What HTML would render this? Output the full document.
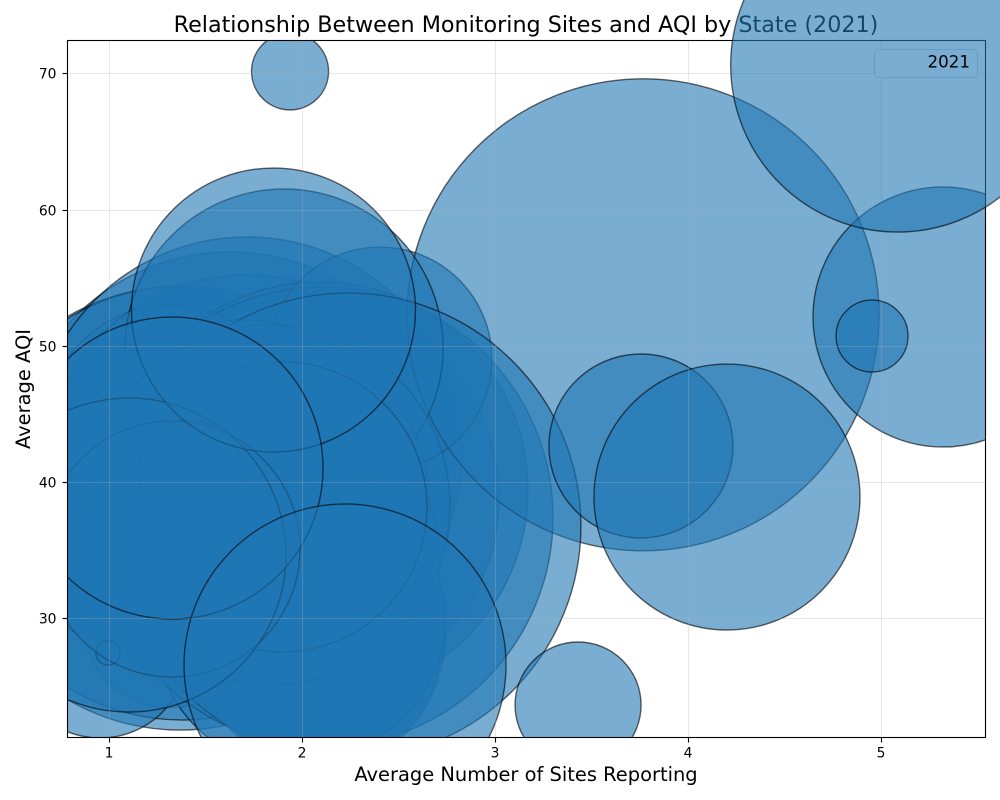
<!DOCTYPE html>
<html>
<head>
<meta charset="utf-8">
<title>Relationship Between Monitoring Sites and AQI by State (2021)</title>
<style>
html,body{margin:0;padding:0;background:#fff;}
svg{display:block;font-family:"DejaVu Sans","Liberation Sans",sans-serif;}
</style>
</head>
<body>
<svg id="chart" xmlns="http://www.w3.org/2000/svg" width="1000" height="800" viewBox="0 0 1000 800">
  <defs>
    <clipPath id="plot-clip"><rect x="67.5" y="40" width="918" height="697.5"/></clipPath>
  </defs>
  <rect x="0" y="0" width="1000" height="800" fill="#fff"/>
  <g id="bubbles" clip-path="url(#plot-clip)"></g>
  <g id="grid"></g>
  <g id="axes"></g>
  <rect x="67.5" y="40.5" width="918" height="697" fill="none" stroke="#000" stroke-width="1.1"/>
  <text x="526" y="32" font-size="22.25" text-anchor="middle" fill="#000">Relationship Between Monitoring Sites and AQI by State (2021)</text>
  <text x="526" y="781" font-size="19.45" text-anchor="middle" fill="#000">Average Number of Sites Reporting</text>
  <text x="30" y="389" font-size="19.45" text-anchor="middle" fill="#000" transform="rotate(-90 30 389)">Average AQI</text>
  <rect x="874.5" y="49.5" width="103" height="28" rx="4" ry="4" fill="#fff" fill-opacity="0.8" stroke="#ccc" stroke-opacity="0.8" stroke-width="1.1"/>
  <g id="top-bubble"></g>
  <text x="970" y="67.5" font-size="16.7" text-anchor="end" fill="#000">2021</text>
</svg>
<script>
// Values, ordered back to front.
const sites = [1.625,1.365,1.376,1.713,1.713,0.992,0.951,1.988,1.988,2.091,2.107,2.402,3.766,1.905,2.236,3.429,1.936,3.755,4.201,5.321,4.953,1.728,1.677,1.755,1.625,1.780,1.677,1.469,1.988,1.728,1.262,1.314,2.091,2.091,2.039,1.314,1.894,1.832,1.417,0.992,1.324,1.101,1.850,1.324,2.221,5.086];
const aqi = [40.90,38.10,38.47,39.94,42.22,35.39,27.67,29.65,38.84,39.43,37.44,49.05,52.30,49.86,36.78,23.63,70.18,42.66,38.91,52.14,50.74,40.90,39.06,40.16,39.43,38.69,37.96,38.69,34.28,32.08,38.69,43.84,28.41,27.67,29.88,29.88,38.18,38.32,40.75,27.45,35.09,34.65,52.65,41.04,26.57,70.65];
const markerSizes = [98546,102195,97644,89712,95852,17934,16058,44810,82118,89712,109693,26011,115490,52423,112574,8230,3074,17551,36681,35044,2687,16796,29364,18715,35044,53084,74858,59927,40643,25091,46656,32400,32400,29860,37791,16058,43597,67185,5607,299,33974,51112,41812,47280,53749,57831];
const xTickLabels = [1,2,3,4,5];
const yTickLabels = [30,40,50,60,70];

const SVG_NS = 'http://www.w3.org/2000/svg';
function xScale(v){ return 109.5 + (v - 1) * 192.9; }
function yScale(v){ return 482.2 - (v - 40) * 13.61; }
function radius(s){ return Math.sqrt(s) / 2 * 100 / 72; }
// Bubbles buried deep in the overlapping cluster show only a faint edge.
function isBuried(i){ return (i >= 21 && i <= 35) || i === 37; }

const bubbleLayer = document.getElementById('bubbles');
const topLayer = document.getElementById('top-bubble');
const gridLayer = document.getElementById('grid');
const axesLayer = document.getElementById('axes');

sites.forEach(function(v, i){
  const el = document.createElementNS(SVG_NS, 'circle');
  
  
  el.setAttribute('cx', xScale(v));
  el.setAttribute('cy', yScale(aqi[i]));
  el.setAttribute('r', radius(markerSizes[i]));
  el.setAttribute('fill', '#1f77b4');
  el.setAttribute('fill-opacity', '0.6');
  el.setAttribute('stroke', '#000');
  el.setAttribute('stroke-opacity', isBuried(i) ? '0.1' : '0.6');
  el.setAttribute('stroke-width', '1.39');
  (i === sites.length - 1 ? topLayer : bubbleLayer).appendChild(el);
});

xTickLabels.forEach(function(t){
  const px = Math.round(xScale(t) - 0.5) + 0.5;
  const g = document.createElementNS(SVG_NS, 'line');
  
  
  g.setAttribute('x1', px); g.setAttribute('x2', px);
  g.setAttribute('y1', 40); g.setAttribute('y2', 737.5);
  g.setAttribute('stroke', '#b0b0b0');
  g.setAttribute('stroke-opacity', '0.3');
  g.setAttribute('stroke-width', '1.1');
  gridLayer.appendChild(g);
  const tick = document.createElementNS(SVG_NS, 'line');
  
  
  tick.setAttribute('x1', px); tick.setAttribute('x2', px);
  tick.setAttribute('y1', 737.5); tick.setAttribute('y2', 742.5);
  tick.setAttribute('stroke', '#000');
  tick.setAttribute('stroke-width', '1.1');
  axesLayer.appendChild(tick);
  const label = document.createElementNS(SVG_NS, 'text');
  
  
  label.setAttribute('x', px - 0.5);
  label.setAttribute('y', 757.5);
  label.setAttribute('font-size', '13.9');
  label.setAttribute('text-anchor', 'middle');
  label.textContent = t;
  axesLayer.appendChild(label);
});

yTickLabels.forEach(function(t){
  const py = Math.round(yScale(t) - 0.5) + 0.5;
  const g = document.createElementNS(SVG_NS, 'line');
  
  
  g.setAttribute('x1', 67.5); g.setAttribute('x2', 985.5);
  g.setAttribute('y1', py); g.setAttribute('y2', py);
  g.setAttribute('stroke', '#b0b0b0');
  g.setAttribute('stroke-opacity', '0.3');
  g.setAttribute('stroke-width', '1.1');
  gridLayer.appendChild(g);
  const tick = document.createElementNS(SVG_NS, 'line');
  
  
  tick.setAttribute('x1', 62.5); tick.setAttribute('x2', 67.5);
  tick.setAttribute('y1', py); tick.setAttribute('y2', py);
  tick.setAttribute('stroke', '#000');
  tick.setAttribute('stroke-width', '1.1');
  axesLayer.appendChild(tick);
  const label = document.createElementNS(SVG_NS, 'text');
  
  
  label.setAttribute('x', 56.5);
  label.setAttribute('y', py + 5);
  label.setAttribute('font-size', '13.9');
  label.setAttribute('text-anchor', 'end');
  label.textContent = t;
  axesLayer.appendChild(label);
});
</script>
</body>
</html>
